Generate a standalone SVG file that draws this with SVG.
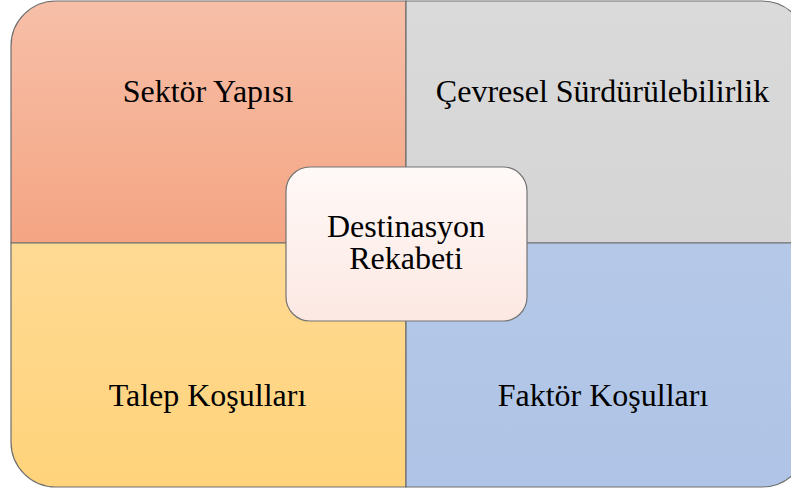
<svg xmlns="http://www.w3.org/2000/svg" width="791" height="493" viewBox="0 0 791 493">
  <defs>
    <linearGradient id="gTL" x1="0" y1="0" x2="0" y2="1">
      <stop offset="0" stop-color="#F7BFA8"/>
      <stop offset="1" stop-color="#F4A583"/>
    </linearGradient>
    <linearGradient id="gTR" x1="0" y1="0" x2="0" y2="1">
      <stop offset="0" stop-color="#DADADA"/>
      <stop offset="1" stop-color="#D5D5D5"/>
    </linearGradient>
    <linearGradient id="gBL" x1="0" y1="0" x2="0" y2="1">
      <stop offset="0" stop-color="#FFDA94"/>
      <stop offset="1" stop-color="#FFD37A"/>
    </linearGradient>
    <linearGradient id="gBR" x1="0" y1="0" x2="0" y2="1">
      <stop offset="0" stop-color="#B5C8E8"/>
      <stop offset="1" stop-color="#AFC4E6"/>
    </linearGradient>
    <linearGradient id="gC" x1="0" y1="0" x2="0" y2="1">
      <stop offset="0" stop-color="#FFF9F7"/>
      <stop offset="1" stop-color="#FCE8E3"/>
    </linearGradient>
  </defs>
  <style>
    .q { stroke: #6E6E6E; stroke-width: 1.2; }
    .t { font-family: 'Liberation Serif', 'Times New Roman', serif; font-size: 32px; fill: #000000; text-anchor: middle; }
  </style>
  <rect width="791" height="493" fill="#FFFFFF"/>
  <g id="sektor-yapisi">
    <path class="q" fill="url(#gTL)" d="M406,1 L56,1 A45,45 0 0 0 11,46 L11,243 L406,243 Z"/>
    <text class="t" x="208" y="102" font-family="Liberation Serif, serif">Sektör Yapısı</text>
  </g>
  <g id="cevresel-surdurulebilirlik">
    <path class="q" fill="url(#gTR)" d="M406,1 L762,1 A45,45 0 0 1 807,46 L807,243 L406,243 Z"/>
    <text class="t" x="602.5" y="102" font-family="Liberation Serif, serif">Çevresel Sürdürülebilirlik</text>
  </g>
  <g id="talep-kosullari">
    <path class="q" fill="url(#gBL)" d="M406,243 L11,243 L11,442 A45,45 0 0 0 56,487 L406,487 Z"/>
    <text class="t" x="207.5" y="406" font-family="Liberation Serif, serif">Talep Koşulları</text>
  </g>
  <g id="faktor-kosullari">
    <path class="q" fill="url(#gBR)" d="M406,243 L807,243 L807,442 A45,45 0 0 1 762,487 L406,487 Z"/>
    <text class="t" x="603" y="406" font-family="Liberation Serif, serif">Faktör Koşulları</text>
  </g>
  <g id="connectors"></g>
  <g id="destinasyon-rekabeti">
    <rect x="286" y="167" width="241" height="154" rx="24" ry="24" fill="url(#gC)" stroke="#747474" stroke-width="1.2"/>
    <text class="t" x="406" y="237" font-family="Liberation Serif, serif"><tspan x="406" y="237">Destinasyon</tspan><tspan x="406" y="269">Rekabeti</tspan></text>
  </g>
</svg>
